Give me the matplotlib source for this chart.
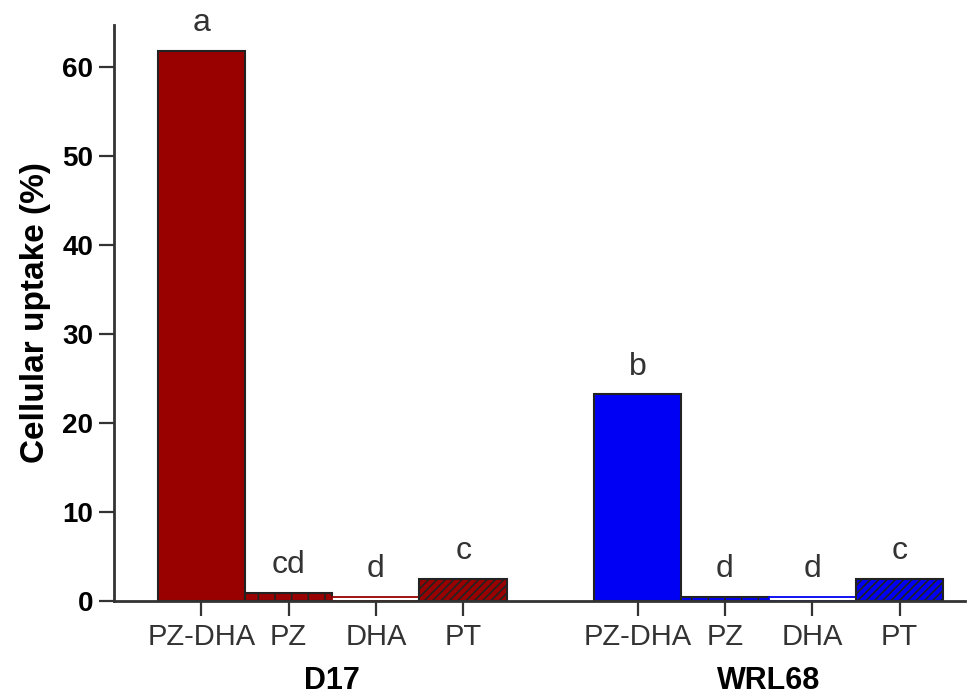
import matplotlib
matplotlib.use("Agg")
import matplotlib.pyplot as plt
import numpy as np

plt.rcParams['font.family'] = ['Liberation Sans', 'DejaVu Sans']
plt.rcParams['hatch.linewidth'] = 1.2

groups = ["D17", "WRL68"]
treatments = ["PZ-DHA", "PZ", "DHA", "PT"]
d17_values = [61.8, 0.9, 0.5, 2.5]
wrl68_values = [23.2, 0.5, 0.5, 2.5]
d17_letters = ["a", "cd", "d", "c"]
wrl68_letters = ["b", "d", "d", "c"]
yticks = [0, 10, 20, 30, 40, 50, 60]

red = "#990000"
blue = "#0000F5"

fig = plt.figure(figsize=(9.79, 6.98), dpi=100)
ax = fig.add_axes([114/979, 1-601/698, (965-114)/979, (601-25)/698])

kinds = ["solid", "pz", "dha", "pt"]

def draw_group(offset, values, letters, color):
    xs = np.arange(len(values)) + offset
    for x, v, lab, k in zip(xs, values, letters, kinds):
        if k == "solid":
            ax.bar(x, v, width=1.0, color=color, edgecolor="#222222", linewidth=1.5)
        elif k == "pz":
            ax.bar(x, v, width=1.0, color=color, edgecolor="#222222", linewidth=1.5, hatch="|")
        elif k == "dha":
            ax.bar(x, v, width=1.0, color="white", edgecolor=color, linewidth=1.3)
        else:
            ax.bar(x, v, width=1.0, color=color, edgecolor="#222222", linewidth=1.5, hatch="////")
        ax.annotate(lab, (x, v), xytext=(0, 20), textcoords="offset points",
                    ha="center", va="center", fontsize=23, color="#333333")
    return xs

xs1 = draw_group(0, d17_values, d17_letters, red)
xs2 = draw_group(5, wrl68_values, wrl68_letters, blue)

ax.set_xlim(-1, 8.75)
ax.set_ylim(0, 64.7)
ax.set_yticks(yticks)
ax.set_yticklabels([str(t) for t in yticks], fontsize=20, fontweight="bold")
ax.set_xticks(list(xs1) + list(xs2))
ax.set_xticklabels(treatments + treatments, fontsize=21, color="#333333")
ax.tick_params(axis="y", length=11, width=1.6, color="#333333", pad=4)
ax.tick_params(axis="x", length=11, width=1.6, color="#333333", pad=5)

for s in ["top", "right"]:
    ax.spines[s].set_visible(False)
for s in ["left", "bottom"]:
    ax.spines[s].set_linewidth(2)
    ax.spines[s].set_color("#333333")

ax.set_ylabel("Cellular uptake (%)", fontsize=24, fontweight="bold", labelpad=8)

for xs, g in [(xs1, groups[0]), (xs2, groups[1])]:
    ax.text(np.mean(xs), -9.0, g, ha="center", va="center", fontsize=22,
            fontweight="bold", transform=ax.transData, clip_on=False)

fig.savefig("out.png", dpi=100)
